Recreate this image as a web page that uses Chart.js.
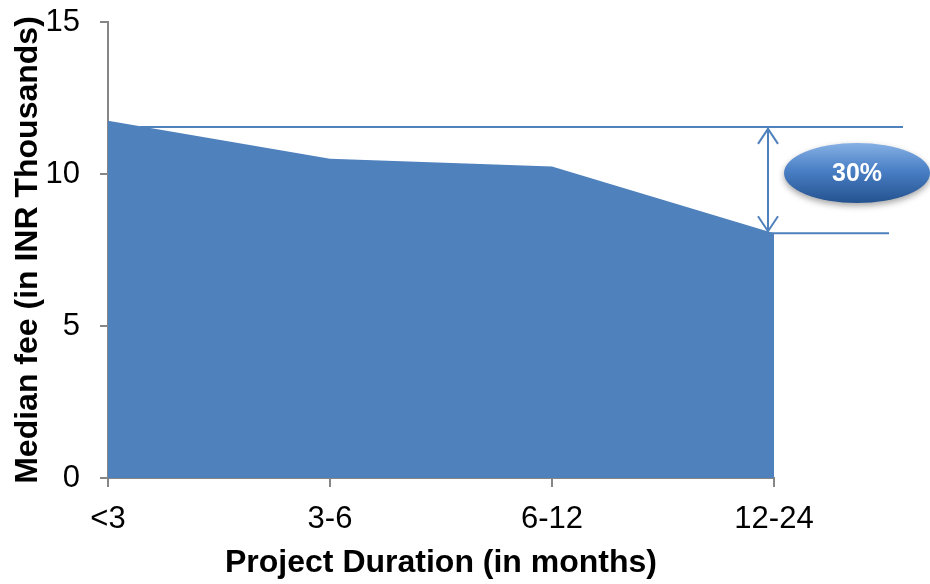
<!DOCTYPE html>
<html>
<head>
<meta charset="utf-8">
<script src="https://cdn.jsdelivr.net/npm/chart.js@4/dist/chart.umd.min.js"></script>
<style>
  html, body { margin: 0; padding: 0; background: #fff; }
  #wrap { width: 930px; height: 584px; position: relative; }
</style>
</head>
<body>
<div id="wrap"><canvas id="chart" width="930" height="584"></canvas></div>
<script>
// data
const durations = ["<3", "3-6", "6-12", "12-24"];
const medianFee = [11.75, 10.5, 10.25, 8.05];
const yTicks = [0, 5, 10, 15];
// the 30% drop marker: from this level down to the last value
const dropFrom = [11.55];
const dropLabel = ["30%"];

const blue = "#4F81BD";
const axisGray = "#868686";
const font = "'Liberation Sans', Arial, sans-serif";

// draws the two guide lines, the double arrow and the bubble
const dropMarker = {
  id: "dropMarker",
  afterDatasetsDraw(chart) {
    const { ctx, scales } = chart;
    const x = scales.x, y = scales.y;
    const last = medianFee.length - 1;
    const yTop = y.getPixelForValue(dropFrom[0]);
    const yBot = y.getPixelForValue(medianFee[last]);
    const xLast = x.getPixelForValue(last);
    const xArrow = xLast - 6;

    ctx.save();
    ctx.strokeStyle = blue;
    ctx.lineWidth = 2;
    ctx.beginPath();
    ctx.moveTo(x.getPixelForValue(0) + 32, yTop);
    ctx.lineTo(xLast + 129, yTop);
    ctx.moveTo(xLast - 6, yBot);
    ctx.lineTo(xLast + 115, yBot);
    ctx.stroke();

    // double arrow
    ctx.beginPath();
    ctx.moveTo(xArrow, yTop + 1);
    ctx.lineTo(xArrow, yBot - 1);
    ctx.moveTo(xArrow - 10, yTop + 17);
    ctx.lineTo(xArrow, yTop + 2);
    ctx.lineTo(xArrow + 10, yTop + 17);
    ctx.moveTo(xArrow - 10, yBot - 17);
    ctx.lineTo(xArrow, yBot - 2);
    ctx.lineTo(xArrow + 10, yBot - 17);
    ctx.stroke();

    // bubble
    const cx = xLast + 83, cy = (yTop + yBot) / 2 - 7;
    ctx.shadowColor = "rgba(0,0,0,0.35)";
    ctx.shadowBlur = 6;
    ctx.shadowOffsetY = 3;
    const g = ctx.createLinearGradient(0, cy - 30, 0, cy + 30);
    g.addColorStop(0, "#86B0E4");
    g.addColorStop(0.45, "#4A80C6");
    g.addColorStop(1, "#24528F");
    ctx.fillStyle = g;
    ctx.beginPath();
    ctx.ellipse(cx, cy, 73, 30, 0, 0, Math.PI * 2);
    ctx.fill();
    ctx.shadowColor = "transparent";
    ctx.fillStyle = "#fff";
    ctx.font = "bold 25px " + font;
    ctx.textAlign = "center";
    ctx.textBaseline = "middle";
    ctx.fillText(dropLabel[0], cx, cy + 1);
    ctx.restore();
  }
};

new Chart(document.getElementById("chart"), {
  type: "line",
  data: {
    labels: durations,
    datasets: [{
      data: medianFee,
      fill: "origin",
      backgroundColor: blue,
      borderColor: blue,
      borderWidth: 0,
      pointRadius: 0,
      tension: 0
    }]
  },
  options: {
    responsive: false,
    animation: false,
    layout: { padding: { top: 22, right: 156, left: 0, bottom: 0 } },
    plugins: { legend: { display: false }, tooltip: { enabled: false } },
    scales: {
      x: {
        offset: false,
        afterFit: (s) => { s.height = 106; },
        grid: { drawOnChartArea: false, drawTicks: true, tickLength: 9, color: axisGray, lineWidth: 2 },
        border: { color: axisGray, width: 2 },
        ticks: { color: "#000", padding: 14, font: { family: font, size: 31 } },
        title: {
          display: true, text: "Project Duration (in months)", color: "#000",
          padding: { top: 0, bottom: 2 },
          font: { family: font, size: 32, weight: "bold" }
        }
      },
      y: {
        min: 0, max: 15,
        afterBuildTicks: (s) => { s.ticks = yTicks.map(v => ({ value: v })); },
        afterFit: (s) => { s.width = 108; s.paddingTop = 0; s.paddingBottom = 0; },
        grid: { drawOnChartArea: false, drawTicks: true, tickLength: 8, color: axisGray, lineWidth: 2 },
        border: { color: axisGray, width: 2 },
        ticks: { color: "#000", padding: 20, font: { family: font, size: 31 } },
        title: {
          display: true, text: "Median fee (in INR Thousands)", color: "#000",
          padding: { top: 9, bottom: 0 },
          font: { family: font, size: 32, weight: "bold" }
        }
      }
    }
  },
  plugins: [dropMarker]
});
</script>
</body>
</html>
